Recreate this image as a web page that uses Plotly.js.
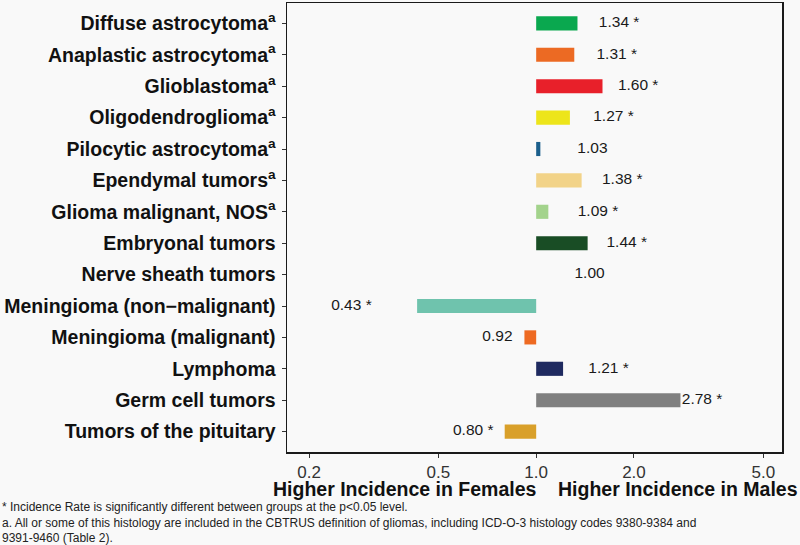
<!DOCTYPE html>
<html>
<head>
<meta charset="utf-8">
<script src="https://cdn.plot.ly/plotly-3.0.1.min.js"></script>
<style>html,body{margin:0;padding:0;background:#f9f9f9;}#chart{width:800px;height:545px;}</style>
</head>
<body>
<div id="chart"></div>
<script>
const categories = [
  "Diffuse astrocytoma<sup>a</sup>",
  "Anaplastic astrocytoma<sup>a</sup>",
  "Glioblastoma<sup>a</sup>",
  "Oligodendroglioma<sup>a</sup>",
  "Pilocytic astrocytoma<sup>a</sup>",
  "Ependymal tumors<sup>a</sup>",
  "Glioma malignant, NOS<sup>a</sup>",
  "Embryonal tumors",
  "Nerve sheath tumors",
  "Meningioma (non\u2212malignant)",
  "Meningioma (malignant)",
  "Lymphoma",
  "Germ cell tumors",
  "Tumors of the pituitary"
];
const ratios = [1.34, 1.31, 1.60, 1.27, 1.03, 1.38, 1.09, 1.44, 1.00, 0.43, 0.92, 1.21, 2.78, 0.80];
const significant = [true, true, true, true, false, true, true, true, false, true, false, true, true, true];
const barColors = ["#0aa84f", "#ec6a23", "#e8202a", "#ede51b", "#1b5f8c", "#f2d388", "#a3d38c", "#194d25", "#808080", "#6fc3ad", "#ee6a22", "#1f2a60", "#808080", "#d9a02a"];
const tickVals = [0.2, 0.5, 1, 2, 5];
const tickText = ["0.2", "0.5", "1.0", "2.0", "5.0"];

const labels = ratios.map((v, i) => v.toFixed(2) + (significant[i] ? " *" : ""));
const labelX = ratios.map(v => v >= 1 ? v + 0.46 : v - 0.16);

const bars = {
  type: "bar",
  orientation: "h",
  y: categories,
  x: ratios.map(v => v - 1),
  base: ratios.map(() => 1),
  width: 0.45,
  marker: {color: barColors, line: {width: 0}},
  hoverinfo: "skip",
  showlegend: false
};
const text = {
  type: "scatter",
  mode: "text",
  y: categories,
  x: labelX,
  text: labels,
  textposition: "middle center",
  textfont: {family: "Liberation Sans, Arial, sans-serif", size: 15.5, color: "#1a1a1a"},
  hoverinfo: "skip",
  showlegend: false,
  cliponaxis: false
};

const layout = {
  width: 800, height: 545,
  paper_bgcolor: "#f9f9f9",
  plot_bgcolor: "#f9f9f9",
  margin: {l: 287, r: 18, t: 3, b: 93},
  font: {family: "Liberation Sans, Arial, sans-serif"},
  xaxis: {
    type: "log",
    range: [Math.log10(0.171), Math.log10(5.71)],
    tickvals: tickVals, ticktext: tickText,
    ticks: "outside", ticklen: 4, tickcolor: "#333333", tickwidth: 1,
    tickfont: {size: 17, color: "#333333"},
    ticklabelstandoff: 0,
    showgrid: false, zeroline: false,
    showline: true, linecolor: "#1a1a1a", linewidth: 1.5, mirror: true
  },
  yaxis: {
    type: "category",
    range: [13.65, -0.65],
    ticks: "outside", ticklen: 4, tickcolor: "#333333", tickwidth: 1,
    tickfont: {size: 19.5, color: "#111111", weight: "bold"},
    ticklabelstandoff: 2,
    showgrid: false, zeroline: false,
    showline: true, linecolor: "#1a1a1a", linewidth: 1.5, mirror: true
  },
  shapes: [
    {type: "line", xref: "x", yref: "paper", x0: 0, x1: 0, y0: 0, y1: 1,
     line: {color: "#000000", width: 1.5}}
  ],
  annotations: [
    {xref: "x", yref: "paper", x: 0, y: 0, yshift: -37, xshift: 2, xanchor: "right", yanchor: "middle",
     text: "<b>Higher Incidence in Females</b>", showarrow: false,
     font: {size: 19.5, color: "#111111"}},
    {xref: "x", yref: "paper", x: 0, y: 0, yshift: -37, xshift: 20, xanchor: "left", yanchor: "middle",
     text: "<b>Higher Incidence in Males</b>", showarrow: false,
     font: {size: 19.5, color: "#111111"}},
    {xref: "paper", yref: "paper", x: -287/495, xshift: 0, y: 0, yshift: -46, xanchor: "left", yanchor: "top", align: "left",
     text: "* Incidence Rate is significantly different between groups at the p&lt;0.05 level.<br>a. All or some of this histology are included in the CBTRUS definition of gliomas, including ICD-O-3 histology codes 9380-9384 and<br>9391-9460 (Table 2).",
     showarrow: false, font: {size: 12, color: "#222222"}}
  ]
};

Plotly.newPlot("chart", [bars, text], layout, {displayModeBar: false, staticPlot: true});
</script>
</body>
</html>
